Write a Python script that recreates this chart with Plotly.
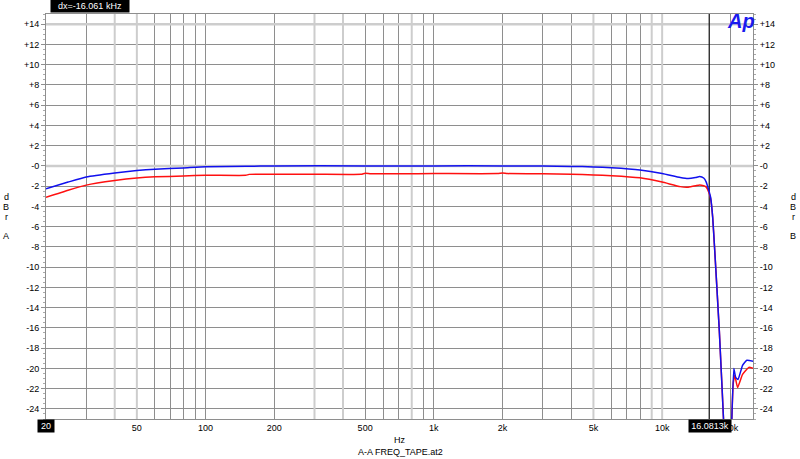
import math
import plotly.graph_objects as go

# ---------------- data ----------------
blue_freq = [20, 25, 30, 40, 50, 60, 80, 100, 150, 200, 500, 1000, 2000, 3000, 4000, 5000,
             6000, 8000, 10000, 12000, 13000, 14000, 14600, 15200, 15600, 16000, 16300,
             16650, 17000, 17800, 18700, 19200, 19800, 20100, 20600, 21000, 21500, 22500,
             23500, 25000]
blue_db = [-2.25, -1.6, -1.1, -0.7, -0.46, -0.33, -0.2, -0.08, -0.04, 0.0, 0.0, 0.0, 0.0, -0.02,
           -0.05, -0.1, -0.18, -0.4, -0.75, -1.15, -1.25, -1.15, -1.05, -1.2, -1.6, -2.4, -3.1,
           -5.1, -8.4, -16.3, -26.5, -34, -34, -26.5, -20.0, -20.9, -21.1, -19.7, -19.2, -19.3]

red_freq = [20, 25, 30, 40, 50, 60, 80, 100, 150, 155, 300, 480, 500, 530, 1000, 1900, 2000,
            2100, 3000, 4000, 5000, 6000, 8000, 10000, 12000, 13000, 14000, 14600, 15200,
            15600, 16000, 16300, 16650, 17000, 17800, 18700, 19200, 19800, 20100, 20500,
            20800, 21400, 22500, 24000, 25000]
red_db = [-3.1, -2.4, -1.9, -1.45, -1.2, -1.08, -1.0, -0.92, -0.93, -0.84, -0.83, -0.83, -0.72,
          -0.78, -0.76, -0.76, -0.7, -0.76, -0.78, -0.83, -0.9, -0.97, -1.18, -1.6, -2.05, -2.1,
          -1.97, -1.88, -1.97, -2.1, -2.6, -3.2, -5.1, -8.4, -16.3, -26.5, -34, -34, -26.5,
          -21.4, -20.7, -21.9, -20.6, -19.9, -20.0]

y_tick_vals = list(range(-24, 15, 2))
y_tick_text = [("+%d" % v) if v > 0 else ("-0" if v == 0 else "%d" % v) for v in y_tick_vals]

x_grid_vals = [20, 30, 40, 50, 60, 70, 80, 90, 100, 200, 300, 400, 500, 600, 700, 800, 900,
               1000, 2000, 3000, 4000, 5000, 6000, 7000, 8000, 9000, 10000, 20000]
x_label_map = {50: "50", 100: "100", 200: "200", 500: "500", 1000: "1k", 2000: "2k",
               5000: "5k", 10000: "10k", 20000: "20k"}
x_light_vals = [40, 50, 300, 400, 800, 5000, 9000, 10000]
y_light_vals = [14, 0]

cursor_freq = 16081.3
cursor_label = "16.0813k"
dx_label = "dx=-16.061 kHz"

x_min, x_max = 20, 25000
y_min, y_max = -25, 15

FONT = "Liberation Sans, Arial, sans-serif"
GRID = "#8e8e8e"
LIGHT = "#cdcdcd"

fig = go.Figure()

# light grid overlays
for xv in x_light_vals:
    fig.add_trace(go.Scatter(x=[xv, xv], y=[y_min, y_max], mode="lines",
                             line=dict(color=LIGHT, width=2), hoverinfo="skip"))
for yv in y_light_vals:
    fig.add_trace(go.Scatter(x=[x_min, x_max], y=[yv, yv], mode="lines",
                             line=dict(color=LIGHT, width=2.5), hoverinfo="skip"))

# cursor
fig.add_trace(go.Scatter(x=[cursor_freq, cursor_freq], y=[y_min, y_max], mode="lines",
                         line=dict(color="#202020", width=1.3), hoverinfo="skip"))

fig.add_trace(go.Scatter(x=red_freq, y=red_db, mode="lines",
                         line=dict(color="#ff1010", width=1.5, shape="spline", smoothing=0.4)))
fig.add_trace(go.Scatter(x=blue_freq, y=blue_db, mode="lines",
                         line=dict(color="#1010ee", width=1.5, shape="spline", smoothing=0.4)))

# dummy trace for right axis
fig.add_trace(go.Scatter(x=[x_min], y=[y_min], yaxis="y2", mode="markers",
                         marker=dict(opacity=0), hoverinfo="skip"))

fig.update_layout(
    width=800, height=459,
    margin=dict(l=46, r=47, t=14, b=40),
    paper_bgcolor="white", plot_bgcolor="white",
    showlegend=False,
    font=dict(family=FONT, size=9, color="black"),
    xaxis=dict(
        type="log", range=[math.log10(x_min), math.log10(x_max)],
        tickmode="array", tickvals=x_grid_vals,
        ticktext=[x_label_map.get(v, "") for v in x_grid_vals],
        showgrid=True, gridcolor=GRID, gridwidth=1,
        showline=True, linecolor=GRID, mirror=True, ticks="",
        tickfont=dict(size=9, family=FONT), zeroline=False, automargin=False,
    ),
    yaxis=dict(
        range=[y_min, y_max], tickmode="array", tickvals=y_tick_vals, ticktext=y_tick_text,
        showgrid=True, gridcolor=GRID, gridwidth=1, zeroline=False,
        showline=True, linecolor=GRID, mirror=True,
        ticks="outside", ticklen=4, tickcolor=GRID,
        minor=dict(tickmode="linear", tick0=0, dtick=0.5, ticks="outside", ticklen=2,
                   tickcolor="#aaaaaa", showgrid=False),
        tickfont=dict(size=9, family=FONT), automargin=False,
    ),
    yaxis2=dict(
        range=[y_min, y_max], overlaying="y", side="right",
        tickmode="array", tickvals=y_tick_vals, ticktext=y_tick_text,
        showgrid=False, zeroline=False, showline=False,
        ticks="outside", ticklen=4, tickcolor=GRID,
        minor=dict(tickmode="linear", tick0=0, dtick=0.5, ticks="outside", ticklen=2,
                   tickcolor="#aaaaaa"),
        tickfont=dict(size=9, family=FONT), automargin=False,
    ),
)

ann = []
# black boxed labels
ann.append(dict(text=dx_label, xref="paper", yref="paper",
                x=(89.5 - 46) / 707, y=1 + 8 / 405, xanchor="center", yanchor="middle",
                showarrow=False, bgcolor="black", font=dict(color="white", size=9, family=FONT),
                borderpad=1, width=76, height=10))
ann.append(dict(text="20", xref="paper", yref="paper", x=0, y=-7 / 405,
                xanchor="center", yanchor="middle", showarrow=False, bgcolor="black",
                font=dict(color="white", size=9, family=FONT), borderpad=1, width=14, height=10))
ann.append(dict(text=cursor_label, xref="paper", yref="paper",
                x=(710 - 46) / 707, y=-7 / 405, xanchor="center", yanchor="middle",
                showarrow=False, bgcolor="black", font=dict(color="white", size=9, family=FONT),
                borderpad=1, width=40, height=10))
# axis titles
ann.append(dict(text="Hz", xref="paper", yref="paper", x=(400 - 46) / 707, y=-(440 - 419) / 405,
                xanchor="center", yanchor="middle", showarrow=False, font=dict(size=9)))
ann.append(dict(text="A-A FREQ_TAPE.at2", xref="paper", yref="paper", x=(400 - 46) / 707,
                y=-(452 - 419) / 405, xanchor="center", yanchor="middle", showarrow=False,
                font=dict(size=9)))
# vertical letters
for letters, xpix in ((["d", "B", "r", "A"], 6), (["d", "B", "r", "B"], 793)):
    for ch, ypix in zip(letters, [197, 207, 217, 236]):
        ann.append(dict(text=ch, xref="paper", yref="paper", x=(xpix - 46) / 707,
                        y=(419 - ypix) / 405, xanchor="center", yanchor="middle",
                        showarrow=False, font=dict(size=9)))
# Ap logo
ann.append(dict(text="<b><i>Ap</i></b>", xref="paper", yref="paper", x=(741 - 46) / 707,
                y=(419 - 21) / 405, xanchor="center", yanchor="middle", showarrow=False,
                font=dict(size=20, color="#1a1aee", family="Liberation Sans, Arial, sans-serif")))
fig.update_layout(annotations=ann)

fig.write_html("out.html", config={"displayModeBar": False},
               post_script="document.body.style.margin='0';")
